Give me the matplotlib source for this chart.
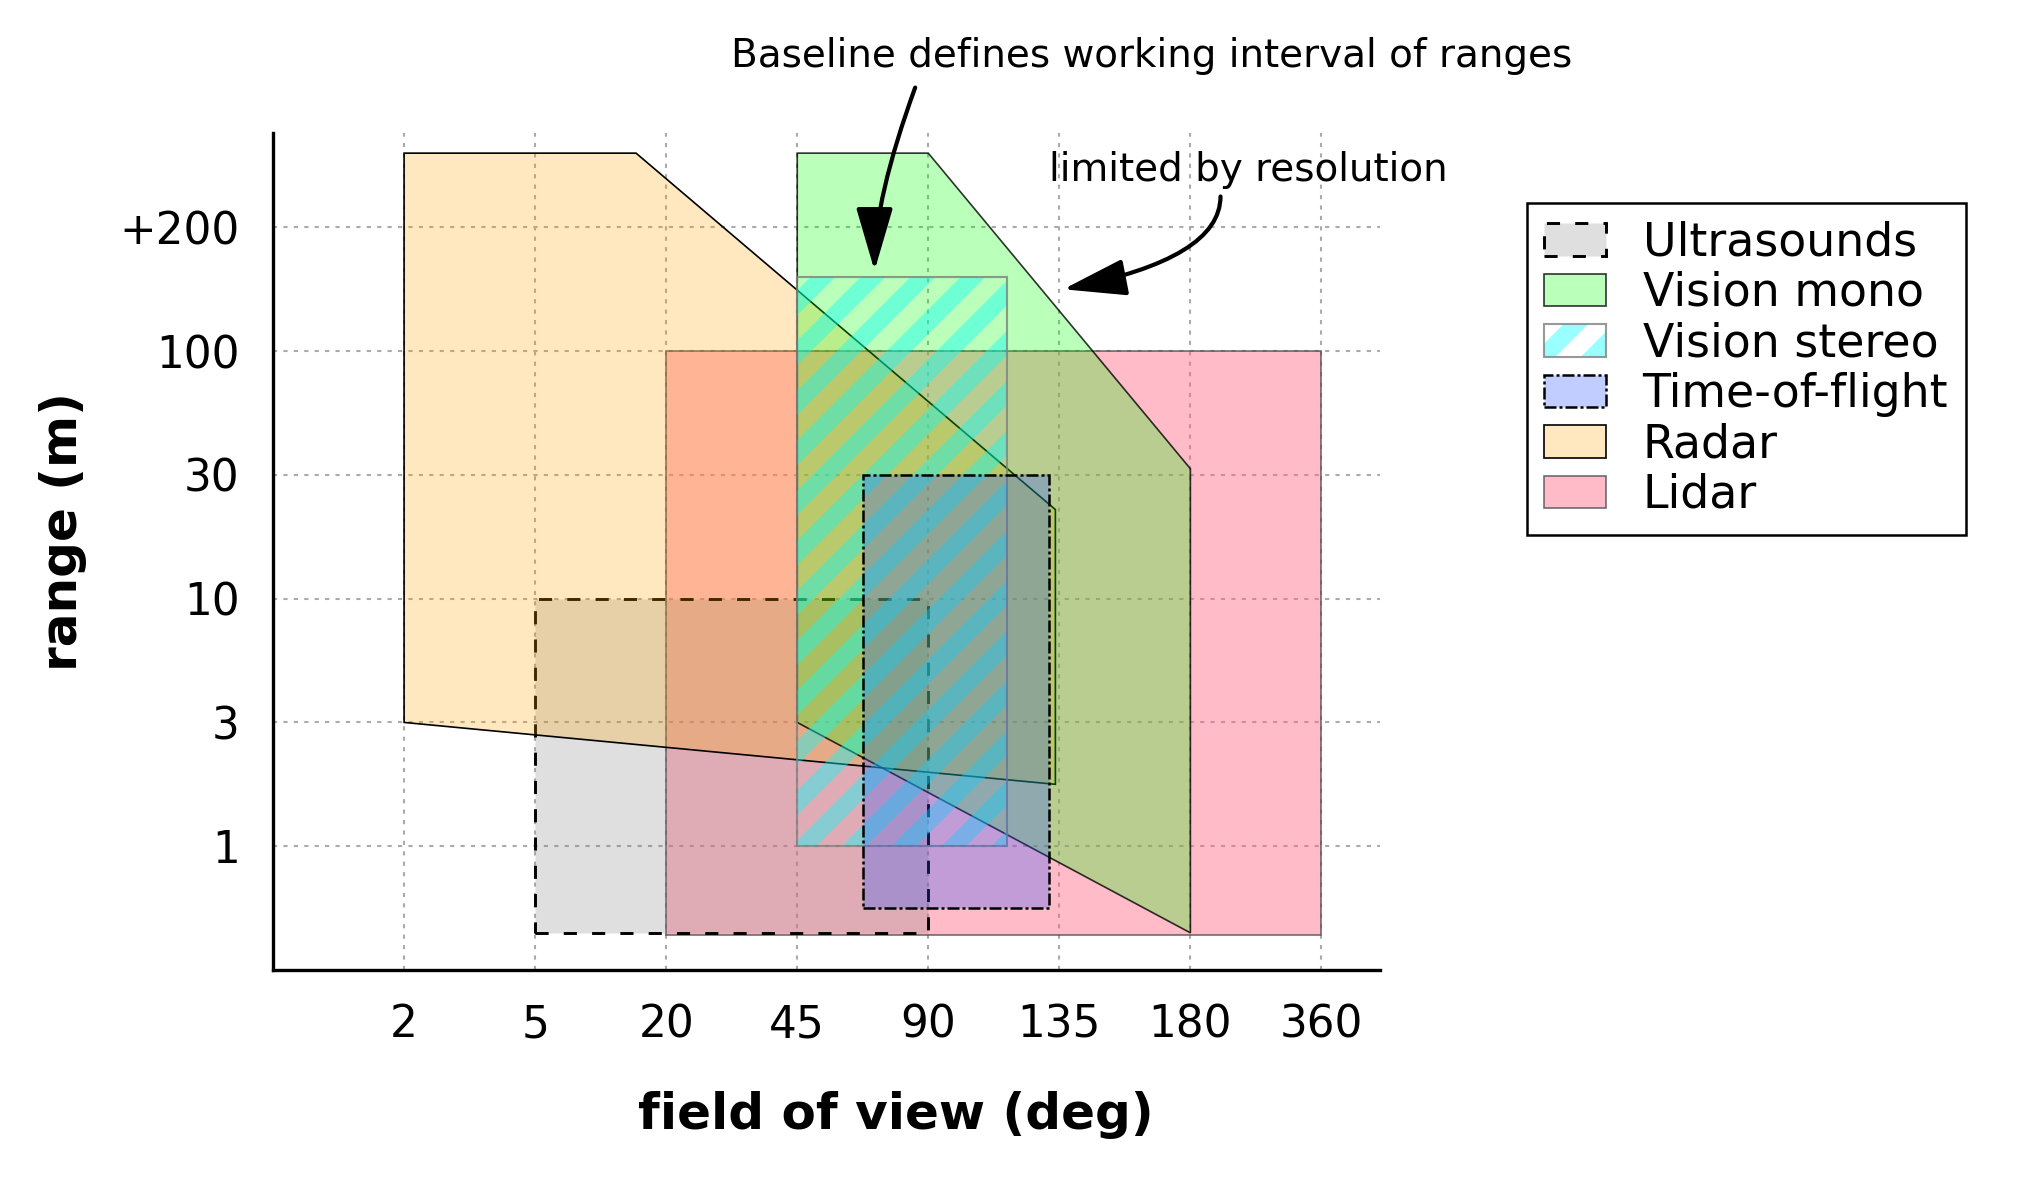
import matplotlib
matplotlib.use("Agg")
import matplotlib.pyplot as plt
import numpy as np

plt.rcParams["font.family"] = "DejaVu Sans"
plt.rcParams["hatch.linewidth"] = 4.2

# axis categories (positions are tick indices 1..n)
fov_labels = ["2", "5", "20", "45", "90", "135", "180", "360"]
range_labels = ["1", "3", "10", "30", "100", "+200"]

# sensor regions, in tick-index units
ultra_x = [2, 5, 5, 2]
ultra_y = [0.3, 0.3, 3, 3]
mono_x = [4, 5, 7, 7, 4]
mono_y = [6.6, 6.6, 4.05, 0.3, 2]
stereo_x = [4, 5.6, 5.6, 4]
stereo_y = [1, 1, 5.6, 5.6]
tof_x = [4.5, 5.92, 5.92, 4.5]
tof_y = [0.5, 0.5, 4, 4]
radar_x = [1, 2.77, 5.97, 5.97, 1]
radar_y = [6.6, 6.6, 3.72, 1.5, 2]
lidar_x = [3, 8, 8, 3]
lidar_y = [0.28, 0.28, 5, 5]

fig = plt.figure(figsize=(2030 / 300, 1180 / 300), dpi=300)
ax = fig.add_axes([0.1345, 0.178, 0.5455, 0.709])

lidar = ax.fill(lidar_x, lidar_y, facecolor=(1, 0.41, 0.53, 0.45),
                edgecolor=(0.3, 0.3, 0.3, 0.8), lw=0.4)[0]
ultra = ax.fill(ultra_x, ultra_y, facecolor=(0.5, 0.5, 0.5, 0.25),
                edgecolor="black", lw=0.7, linestyle=(0, (4.5, 5.2)))[0]
radar = ax.fill(radar_x, radar_y, facecolor=(1, 0.647, 0, 0.25),
                edgecolor="black", lw=0.4)[0]
mono = ax.fill(mono_x, mono_y, facecolor=(0, 1, 0, 0.27),
               edgecolor=(0, 0, 0, 0.8), lw=0.4)[0]
stereo_h = ax.fill(stereo_x, stereo_y, facecolor="none",
                   edgecolor=(0, 1, 1, 0.4), lw=0, hatch="//")[0]
stereo_o = ax.fill(stereo_x, stereo_y, facecolor="none",
                   edgecolor=(0.5, 0.5, 0.5, 0.8), lw=0.5)[0]
tof = ax.fill(tof_x, tof_y, facecolor=(0.15, 0.3, 1, 0.28),
              edgecolor="black", lw=0.6, linestyle=(0, (4.8, 1.2, 1.2, 1.2)))[0]

ax.set_xlim(0, 8.45)
ax.set_ylim(0, 6.76)
ax.set_xticks(np.arange(1, len(fov_labels) + 1))
ax.set_xticklabels(fov_labels)
ax.set_yticks(np.arange(1, len(range_labels) + 1))
ax.set_yticklabels(range_labels)
ax.tick_params(length=0, labelsize=10.5, pad=8)
ax.spines[["top", "right"]].set_visible(False)
ax.spines[["left", "bottom"]].set_linewidth(0.8)
ax.set_axisbelow(True)
ax.grid(True, color="#aaaaaa", lw=0.5, linestyle=(0, (2, 3)))

ax.set_xlabel("field of view (deg)", fontsize=12, fontweight="bold")
ax.xaxis.set_label_coords(0.562, -0.1446)
ax.set_ylabel("range (m)", fontsize=12, fontweight="bold")
ax.yaxis.set_label_coords(-0.168, 0.524)

fig.text(0.5675, 0.9525, "Baseline defines working interval of ranges",
         ha="center", va="center", fontsize=9.35)
fig.text(0.615, 0.856, "limited by resolution",
         ha="center", va="center", fontsize=9.35)

ax.annotate("", xy=(4.59, 5.65), xytext=(4.9, 7.13), annotation_clip=False,
            arrowprops=dict(arrowstyle="-|>,head_length=1.3,head_width=0.38",
                            lw=1, color="black", shrinkA=0, shrinkB=0,
                            connectionstyle="angle3,angleA=70,angleB=90"))
ax.annotate("", xy=(6.03, 5.5), xytext=(7.23, 6.25), annotation_clip=False,
            arrowprops=dict(arrowstyle="-|>,head_length=1.3,head_width=0.38",
                            lw=1, color="black", shrinkA=0, shrinkB=0,
                            connectionstyle="angle3,angleA=90,angleB=11"))

leg = ax.legend([ultra, mono, (stereo_h, stereo_o), tof, radar, lidar],
                ["Ultrasounds", "Vision mono", "Vision stereo", "Time-of-flight",
                 "Radar", "Lidar"],
                loc="upper left", bbox_to_anchor=(0.752, 0.828),
                bbox_transform=fig.transFigure, borderaxespad=0, borderpad=0.38,
                handlelength=1.35, handleheight=0.72, handletextpad=0.8,
                labelspacing=0.12, fancybox=False, edgecolor="black",
                framealpha=1, fontsize=11)
leg.get_frame().set_linewidth(0.6)

fig.savefig("out.png", dpi=300)
